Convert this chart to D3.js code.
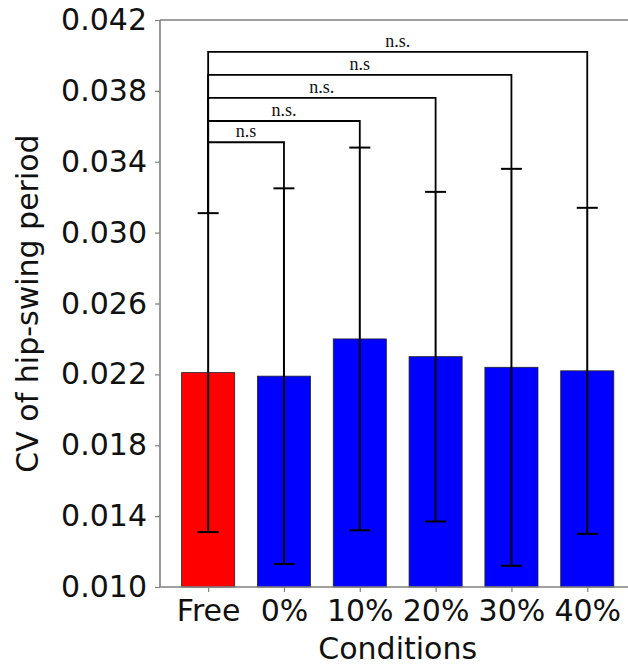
<!DOCTYPE html>
<html>
<head>
<meta charset="utf-8">
<script src="https://cdn.jsdelivr.net/npm/d3@7"></script>
<style>
  html, body { margin: 0; padding: 0; background: #fff; }
  svg { display: block; }
</style>
</head>
<body>
<svg id="chart" width="628" height="665"></svg>
<script>
// Conditions and their mean CV with standard deviation
const categories = ["Free", "0%", "10%", "20%", "30%", "40%"];
const means = [0.0221, 0.0219, 0.0240, 0.0230, 0.0224, 0.0222];
const sds = [0.0090, 0.0106, 0.0108, 0.0093, 0.0112, 0.0092];
const barColors = ["#ff0000", "#0000ff", "#0000ff", "#0000ff", "#0000ff", "#0000ff"];

// Y-axis ticks
const yTicks = [0.010, 0.014, 0.018, 0.022, 0.026, 0.030, 0.034, 0.038, 0.042];

// Significance brackets: each compares "Free" with another condition
const compareTo = [1, 2, 3, 4, 5];
const bracketLevels = [0.0351, 0.0363, 0.0376, 0.0389, 0.0402];
const bracketLabels = ["n.s", "n.s.", "n.s.", "n.s", "n.s."];

const svg = d3.select("#chart");
const plotLeft = 160, plotTop = 20, plotBottom = 587, plotRight = 635.4;
const barWidth = 0.7;

const x = d3.scaleLinear().domain([-0.635, 5.635]).range([plotLeft, plotRight]);
const y = d3.scaleLinear().domain([0.010, 0.042]).range([plotBottom, plotTop]);

const sansFont = "'DejaVu Sans', sans-serif";
const serifFont = "'Liberation Serif', 'Times New Roman', serif";
const spineColor = "#808080";

// Bars
svg.append("g").selectAll("rect")
  .data(means)
  .join("rect")
  .attr("x", (d, i) => x(i - barWidth / 2))
  .attr("y", d => y(d))
  .attr("width", (d, i) => x(i + barWidth / 2) - x(i - barWidth / 2))
  .attr("height", d => y(0.010) - y(d))
  .attr("fill", (d, i) => barColors[i])
  .attr("stroke", "#222")
  .attr("stroke-width", 0.8);

// Error bars (mean ± SD)
const err = svg.append("g").attr("stroke", "#000").attr("stroke-width", 2);
means.forEach((m, i) => {
  const cx = x(i);
  err.append("line").attr("x1", cx).attr("x2", cx)
    .attr("y1", y(m - sds[i])).attr("y2", y(m + sds[i]));
  [m - sds[i], m + sds[i]].forEach(v => {
    err.append("line").attr("x1", cx - 10.5).attr("x2", cx + 10.5)
      .attr("y1", y(v)).attr("y2", y(v));
  });
});

// Significance brackets
const br = svg.append("g");
compareTo.forEach((j, k) => {
  const lv = y(bracketLevels[k]);
  const x0 = x(0), x1 = x(j);
  br.append("path")
    .attr("d", `M${x0},${y(means[0] + sds[0])}V${lv}H${x1}V${y(means[j] + sds[j])}`)
    .attr("fill", "none")
    .attr("stroke", "#000")
    .attr("stroke-width", 1.8);
  br.append("text")
    .attr("x", (x0 + x1) / 2)
    .attr("y", lv - 5)
    .attr("text-anchor", "middle")
    .attr("font-family", serifFont)
    .attr("font-size", 18)
    .attr("fill", "#111")
    .text(bracketLabels[k]);
});

// Y axis
const yAxis = svg.append("g")
  .attr("transform", `translate(${plotLeft},0)`)
  .call(d3.axisLeft(y).tickValues(yTicks).tickFormat(d3.format(".3f"))
    .tickSize(5).tickPadding(8));
yAxis.select(".domain").remove();
yAxis.selectAll(".tick line").attr("stroke", spineColor).attr("stroke-width", 1.2);
yAxis.selectAll("text").attr("font-family", sansFont).attr("font-size", 30).attr("fill", "#111");

// X axis
const xAxis = svg.append("g")
  .attr("transform", `translate(0,${plotBottom})`)
  .call(d3.axisBottom(x).tickValues(d3.range(categories.length))
    .tickFormat(i => categories[i]).tickSize(5).tickPadding(8));
xAxis.select(".domain").remove();
xAxis.selectAll(".tick line").attr("stroke", spineColor).attr("stroke-width", 1.2);
xAxis.selectAll("text").attr("font-family", sansFont).attr("font-size", 30).attr("fill", "#111");

// Spines
const sp = svg.append("g").attr("stroke", spineColor).attr("stroke-width", 1.6);
sp.append("line").attr("x1", plotLeft).attr("x2", plotLeft).attr("y1", plotTop).attr("y2", plotBottom);
sp.append("line").attr("x1", plotLeft).attr("x2", 628).attr("y1", plotTop).attr("y2", plotTop);
sp.append("line").attr("x1", plotLeft).attr("x2", 628).attr("y1", plotBottom).attr("y2", plotBottom);

// Axis titles
svg.append("text")
  .attr("transform", `translate(38,${(plotTop + plotBottom) / 2}) rotate(-90)`)
  .attr("text-anchor", "middle")
  .attr("font-family", sansFont)
  .attr("font-size", 30)
  .attr("fill", "#111")
  .text("CV of hip-swing period");

svg.append("text")
  .attr("x", (plotLeft + plotRight) / 2)
  .attr("y", 659)
  .attr("text-anchor", "middle")
  .attr("font-family", sansFont)
  .attr("font-size", 30)
  .attr("fill", "#111")
  .text("Conditions");
</script>
</body>
</html>
